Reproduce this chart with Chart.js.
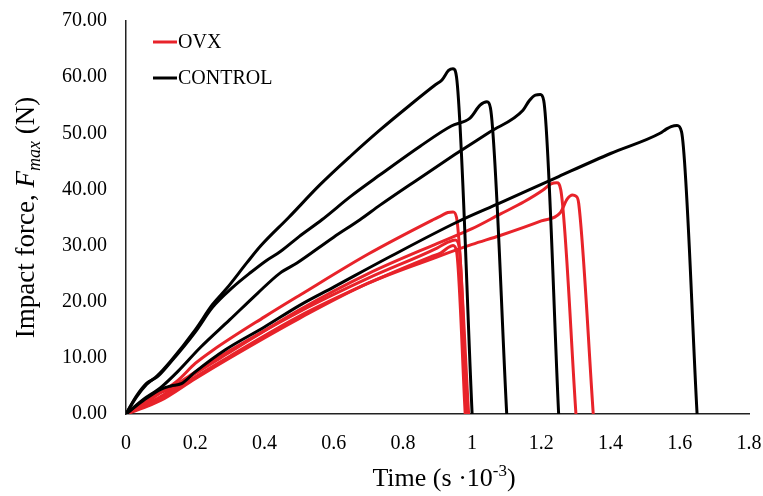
<!DOCTYPE html>
<html lang="en">
<head>
  <meta charset="UTF-8">
  <title>Impact force vs time</title>
  <script src="https://cdn.jsdelivr.net/npm/chart.js"></script>
  <style>
    body { margin: 0; background-color: white; }
    #wrap { width: 763px; height: 496px; position: relative; }
  </style>
</head>
<body>
<div id="wrap"><canvas id="impact-chart" width="763" height="496"></canvas></div>

<script>
// control curves (time in s*10^-3, force in N)
const ctrl1Time  = [0, 0.03, 0.06, 0.09, 0.13, 0.2, 0.25, 0.29, 0.35, 0.39, 0.47, 0.56, 0.65, 0.734, 0.82, 0.893, 0.913, 0.932, 0.945, 0.955, 1.0];
const ctrl1Force = [0, 3, 5.3, 6.8, 9.5, 15, 19.5, 22.3, 27, 30, 35, 40.8, 46, 50.6, 55, 58.6, 59.5, 61.2, 61.5, 60, 0];
const ctrl2Time  = [0, 0.03, 0.06, 0.09, 0.13, 0.2, 0.25, 0.309, 0.36, 0.407, 0.445, 0.5, 0.566, 0.65, 0.734, 0.85, 0.94, 0.994, 1.023, 1.043, 1.053, 1.1];
const ctrl2Force = [0, 3.2, 5.5, 6.6, 9.3, 14.6, 19, 22.6, 25.2, 27.4, 28.9, 31.6, 34.6, 38.8, 42.6, 47.7, 51.3, 52.7, 55, 55.6, 54.5, 0];
const ctrl3Time  = [0, 0.05, 0.1, 0.15, 0.214, 0.3, 0.38, 0.445, 0.494, 0.6, 0.676, 0.734, 0.841, 0.95, 1.05, 1.147, 1.165, 1.183, 1.197, 1.207, 1.25];
const ctrl3Force = [0, 2.6, 4.7, 7.6, 11.8, 16.8, 21.5, 25.1, 26.9, 31.5, 34.6, 37.2, 41.7, 46.2, 50.2, 54.1, 55.8, 56.8, 56.9, 55.8, 0];
const ctrl4Time  = [0, 0.05, 0.1, 0.13, 0.16, 0.2, 0.286, 0.4, 0.503, 0.6, 0.75, 0.957, 1.081, 1.25, 1.4, 1.543, 1.56, 1.575, 1.592, 1.605, 1.65];
const ctrl4Force = [0, 2.4, 4.4, 5.0, 5.4, 7.5, 11.4, 15.5, 19.4, 22.6, 27.6, 34.2, 37.6, 42.3, 46.4, 50, 50.7, 51.2, 51.4, 50.3, 0];

// OVX curves
const ovx1Time  = [0, 0.05, 0.1, 0.15, 0.2, 0.252, 0.4, 0.503, 0.7, 0.887, 0.91, 0.93, 0.945, 0.955, 0.99];
const ovx1Force = [0, 1.8, 3.8, 6.0, 9.0, 11.4, 17.3, 21.2, 28.5, 34.6, 35.3, 35.9, 36.0, 35, 0];
const ovx2Time  = [0, 0.04, 0.08, 0.12, 0.2, 0.3, 0.5, 0.7, 0.9, 0.93, 0.951, 0.962, 0.985];
const ovx2Force = [0, 1.8, 3.4, 4.3, 7.5, 11.3, 18.2, 24.2, 29.6, 30.6, 31.0, 30, 0];
const ovx3Time  = [0, 0.05, 0.1, 0.2, 0.3, 0.5, 0.7, 0.88, 0.91, 0.93, 0.945, 0.955, 0.98];
const ovx3Force = [0, 1.3, 2.7, 6.6, 10.3, 17.4, 23.3, 28.0, 28.7, 29.6, 30.0, 29, 0];
const ovx4Time  = [0, 0.05, 0.1, 0.2, 0.3, 0.5, 0.7, 0.9, 1.0, 1.081, 1.15, 1.205, 1.228, 1.245, 1.256, 1.3];
const ovx4Force = [0, 1.5, 3.1, 7.2, 11.0, 18.5, 25.0, 30.4, 33.0, 35.6, 37.8, 39.9, 41.0, 41.2, 40, 0];
const ovx5Time  = [0, 0.05, 0.1, 0.2, 0.3, 0.5, 0.7, 0.9, 1.0, 1.081, 1.2, 1.254, 1.275, 1.29, 1.3, 1.308, 1.35];
const ovx5Force = [0, 1.1, 2.4, 6.3, 10.0, 17.0, 23.3, 28.0, 30.2, 31.8, 34.4, 35.8, 38.3, 39.0, 38.8, 37.5, 0];

const xTicks = [0, 0.2, 0.4, 0.6, 0.8, 1, 1.2, 1.4, 1.6, 1.8];
const yTicks = [0, 10, 20, 30, 40, 50, 60, 70];
const groupNames = ['OVX', 'CONTROL'];

const RED = '#e8232a';
const BLACK = '#000000';
const SERIF = '"Liberation Serif", "DejaVu Serif", serif';

function toPoints(t, f) { return t.map((x, i) => ({ x: x, y: f[i] })); }
function curve(t, f, color) {
  return { data: toPoints(t, f), borderColor: color, borderWidth: 3, pointRadius: 0, fill: false, showLine: true, cubicInterpolationMode: 'monotone' };
}

// controls first so they are painted on top of the red curves
const datasets = [
  curve(ctrl1Time, ctrl1Force, BLACK),
  curve(ctrl2Time, ctrl2Force, BLACK),
  curve(ctrl3Time, ctrl3Force, BLACK),
  curve(ctrl4Time, ctrl4Force, BLACK),
  curve(ovx1Time, ovx1Force, RED),
  curve(ovx2Time, ovx2Force, RED),
  curve(ovx3Time, ovx3Force, RED),
  curve(ovx4Time, ovx4Force, RED),
  curve(ovx5Time, ovx5Force, RED)
];

function drawParts(ctx, parts) {
  let w = 0;
  parts.forEach(p => { ctx.font = p.font; p.w = ctx.measureText(p.text).width; w += p.w; });
  let x = -w / 2;
  parts.forEach(p => { ctx.font = p.font; ctx.fillText(p.text, x, p.dy || 0); x += p.w; });
}

const titlesPlugin = {
  id: 'titles',
  afterDraw(chart) {
    const ctx = chart.ctx;
    const area = chart.chartArea;
    ctx.save();
    ctx.fillStyle = '#000';
    ctx.textBaseline = 'alphabetic';
    ctx.textAlign = 'left';

    // y axis title
    ctx.save();
    ctx.translate(34, (area.top + area.bottom) / 2);
    ctx.rotate(-Math.PI / 2);
    drawParts(ctx, [
      { text: 'Impact force, ', font: '27px ' + SERIF },
      { text: 'F', font: 'italic 27px ' + SERIF },
      { text: 'max', font: 'italic 18px ' + SERIF, dy: 6 },
      { text: ' (N)', font: '27px ' + SERIF }
    ]);
    ctx.restore();

    // x axis title
    ctx.save();
    ctx.translate(444, 486);
    drawParts(ctx, [
      { text: 'Time (s \u00b710', font: '26px ' + SERIF },
      { text: '-3', font: '17px ' + SERIF, dy: -10 },
      { text: ')', font: '26px ' + SERIF }
    ]);
    ctx.restore();

    // legend
    const rows = [{ name: groupNames[0], color: RED, y: 42 }, { name: groupNames[1], color: BLACK, y: 78 }];
    ctx.font = '20px ' + SERIF;
    ctx.textBaseline = 'middle';
    rows.forEach(r => {
      ctx.strokeStyle = r.color;
      ctx.lineWidth = 3;
      ctx.beginPath();
      ctx.moveTo(153, r.y);
      ctx.lineTo(177, r.y);
      ctx.stroke();
      ctx.fillText(r.name, 178, r.y + 1);
    });
    ctx.restore();
  }
};

new Chart(document.getElementById('impact-chart'), {
  type: 'scatter',
  data: { datasets },
  options: {
    responsive: false,
    animation: false,
    layout: { padding: { left: 0, right: 14, top: 21, bottom: 0 } },
    plugins: { legend: { display: false }, tooltip: { enabled: false } },
    scales: {
      x: {
        type: 'linear', min: 0, max: 1.8,
        grid: { display: false, drawTicks: false },
        border: { display: true, color: '#222', width: 1.5 },
        afterBuildTicks: s => { s.ticks = xTicks.map(v => ({ value: v })); },
        afterFit: s => { s.height = 82; s.paddingLeft = 0; s.paddingRight = 0; },
        ticks: { color: '#000', font: { family: SERIF, size: 20 }, padding: 18, maxRotation: 0,
                 callback: v => String(v) }
      },
      y: {
        type: 'linear', min: 0, max: 70,
        grid: { display: false, drawTicks: false },
        border: { display: true, color: '#222', width: 1.5 },
        afterBuildTicks: s => { s.ticks = yTicks.map(v => ({ value: v })); },
        afterFit: s => { s.width = 126; s.paddingTop = 0; s.paddingBottom = 0; },
        ticks: { color: '#000', font: { family: SERIF, size: 20 }, padding: 19,
                 callback: v => v.toFixed(2) }
      }
    }
  },
  plugins: [titlesPlugin]
});
</script>
</body>
</html>
